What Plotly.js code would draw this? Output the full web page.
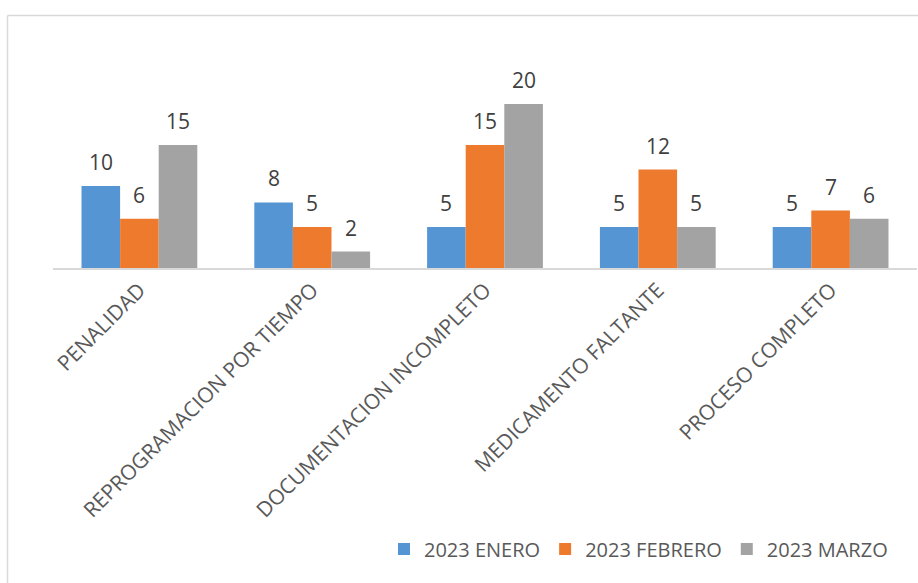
<!DOCTYPE html>
<html>
<head>
<meta charset="utf-8">
<script src="https://cdn.plot.ly/plotly-3.0.1.min.js"></script>
<style>
  html, body { margin: 0; padding: 0; background: #fff; }
  #chart { width: 918px; height: 583px; }
</style>
</head>
<body>
<div id="chart"></div>
<script>
const categories = ["PENALIDAD", "REPROGRAMACION POR TIEMPO", "DOCUMENTACION INCOMPLETO", "MEDICAMENTO FALTANTE", "PROCESO COMPLETO"];
const seriesNames = ["2023 ENERO", "2023 FEBRERO", "2023 MARZO"];
const enero = [10, 8, 5, 5, 5];
const febrero = [6, 5, 15, 12, 7];
const marzo = [15, 2, 20, 5, 6];

const seriesValues = [enero, febrero, marzo];
const colors = ["#5595D4", "#EE7A2E", "#A3A3A3"];

const W = 918, H = 583;
const M = { l: 53, r: 1, t: 40, b: 315 };
const plotW = W - M.l - M.r, plotH = H - M.t - M.b;
const px2paperX = p => (p - M.l) / plotW;
const px2paperY = p => (H - M.b - p) / plotH;

const bargap = 0.33;
const barW = (1 - bargap) / 3;

const traces = seriesValues.map((vals, s) => ({
  type: "bar",
  name: seriesNames[s],
  x: categories,
  y: vals,
  marker: { color: colors[s], line: { width: 0 } },
  hoverinfo: "skip"
}));

const annotations = [];
seriesValues.forEach((vals, s) => {
  vals.forEach((v, i) => {
    annotations.push({
      x: i + (s - 1) * barW,
      y: v,
      xref: "x", yref: "y",
      text: String(v),
      showarrow: false,
      xanchor: "center",
      yanchor: "bottom",
      yshift: 8,
      font: { family: "Open Sans, sans-serif", size: 21, color: "#404040" }
    });
  });
});

const borderColor = "#D9D9D9";
const shapes = [
  { type: "line", xref: "paper", yref: "paper",
    x0: px2paperX(7.5), x1: px2paperX(7.5), y0: px2paperY(15.5), y1: px2paperY(H + 5),
    line: { color: borderColor, width: 1.5 } },
  { type: "line", xref: "paper", yref: "paper",
    x0: px2paperX(7.5), x1: px2paperX(W + 5), y0: px2paperY(15.5), y1: px2paperY(15.5),
    line: { color: borderColor, width: 1.5 } }
];

const layout = {
  width: W, height: H,
  margin: M,
  paper_bgcolor: "#fff",
  plot_bgcolor: "#fff",
  barmode: "group",
  bargap: bargap,
  bargroupgap: 0,
  font: { family: "Open Sans, sans-serif", size: 20, color: "#595959" },
  xaxis: {
    type: "category",
    showline: true, linecolor: "#D9D9D9", linewidth: 1.5,
    showgrid: false, zeroline: false,
    ticks: "",
    tickangle: -45,
    tickfont: { family: "Open Sans, sans-serif", size: 21, color: "#595959" },
    fixedrange: true
  },
  yaxis: {
    range: [0, plotH / 8.2],
    visible: false,
    showgrid: false, zeroline: false,
    fixedrange: true
  },
  showlegend: true,
  legend: {
    orientation: "h",
    x: px2paperX(893), xanchor: "right",
    y: px2paperY(549), yanchor: "middle",
    font: { family: "Open Sans, sans-serif", size: 20, color: "#595959" },
    bgcolor: "rgba(0,0,0,0)"
  },
  annotations: annotations,
  shapes: shapes
};

Plotly.newPlot("chart", traces, layout, { displayModeBar: false, staticPlot: true });
</script>
</body>
</html>
